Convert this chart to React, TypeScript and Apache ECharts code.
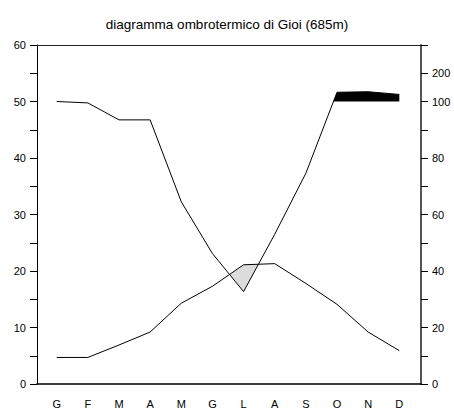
import React, { useEffect, useRef } from 'react';
import * as echarts from 'echarts';

const months = ['G', 'F', 'M', 'A', 'M', 'G', 'L', 'A', 'S', 'O', 'N', 'D'];
const temperature = [4.7, 4.7, 6.9, 9.2, 14.3, 17.3, 21.1, 21.3, 17.8, 14.1, 9.2, 5.9];
const precipitation = [100, 99.5, 93.5, 93.5, 64.5, 46.2, 32.7, 53, 74.6, 132.6, 134.6, 125];
const leftTickLabels = [0, 10, 20, 30, 40, 50, 60];
const rightTickLabels = [0, 20, 40, 60, 80, 100, 200];
const titleText = 'diagramma ombrotermico di Gioi (685m)';

// Walter-Lieth scale: 20 mm = 10 °C up to 100 mm, above 100 mm compressed 1:10
const precipToT = (p: number) => (p <= 100 ? p / 2 : 50 + (p - 100) / 20);

const xs = months.map((_, i) => i + 1);
const precipT = precipitation.map(precipToT);
const hundred = months.map(() => precipToT(100));

function regions(upper: number[], lower: number[]) {
  const polys: number[][][] = [];
  let cur: { top: number[][]; bottom: number[][] } | null = null;
  for (let i = 0; i < xs.length; i++) {
    const d = upper[i] - lower[i];
    if (i > 0) {
      const dPrev = upper[i - 1] - lower[i - 1];
      if (dPrev > 0 !== d > 0) {
        const f = dPrev / (dPrev - d);
        const x = xs[i - 1] + f * (xs[i] - xs[i - 1]);
        const y = lower[i - 1] + f * (lower[i] - lower[i - 1]);
        if (d > 0) {
          cur = { top: [[x, y]], bottom: [] };
        } else if (cur) {
          cur.top.push([x, y]);
          polys.push(cur.top.concat(cur.bottom.slice().reverse()));
          cur = null;
        }
      }
    }
    if (d > 0) {
      if (!cur) cur = { top: [], bottom: [] };
      cur.top.push([xs[i], upper[i]]);
      cur.bottom.push([xs[i], lower[i]]);
    }
  }
  if (cur) polys.push(cur.top.concat(cur.bottom.slice().reverse()));
  return polys;
}

const dryPolys = regions(temperature, precipT);
const wetPolys = regions(precipT, hundred);

const FONT = 'Liberation Sans';

export default function App() {
  const ref = useRef<HTMLDivElement>(null);
  useEffect(() => {
    if (!ref.current) return;
    const chart = echarts.init(ref.current, undefined, { renderer: 'svg' });
    const polySeries = (polys: number[][][], fill: string) => ({
      type: 'custom',
      xAxisIndex: 2,
      yAxisIndex: 2,
      data: [[1, 0]],
      encode: { x: 0, y: 1 },
      silent: true,
      renderItem: (_params: any, api: any) => ({
        type: 'group',
        children: polys.map((poly) => ({
          type: 'polygon',
          shape: { points: poly.map((p) => api.coord(p)) },
          style: { fill, stroke: null },
        })),
      }),
    });
    chart.setOption({
      animation: false,
      backgroundColor: '#fff',
      title: {
        text: titleText,
        left: 'center',
        top: 12,
        textStyle: { fontFamily: FONT, fontSize: 13.5, fontWeight: 'normal', color: '#000' },
      },
      grid: [
        { left: 37, right: 33, top: 45, bottom: 26 },
        { left: 56.7, right: 54.7, top: 45, bottom: 26 },
      ],
      xAxis: [
        {
          gridIndex: 0, type: 'value', min: 0, max: 1, position: 'bottom',
          axisLine: { show: true, onZero: false, lineStyle: { color: '#000', width: 1.5 } },
          axisTick: { show: false }, axisLabel: { show: false }, splitLine: { show: false },
        },
        {
          gridIndex: 0, type: 'value', min: 0, max: 1, position: 'top',
          axisLine: { show: true, onZero: false, lineStyle: { color: '#222', width: 1 } },
          axisTick: { show: false }, axisLabel: { show: false }, splitLine: { show: false },
        },
        {
          gridIndex: 1, type: 'value', min: 1, max: 12, interval: 1, position: 'bottom',
          axisLine: { show: false }, axisTick: { show: false }, splitLine: { show: false },
          axisLabel: {
            margin: 14, fontFamily: FONT, fontSize: 11, color: '#000',
            formatter: (v: number) => months[Math.round(v) - 1] ?? '',
          },
        },
      ],
      yAxis: [
        {
          gridIndex: 0, type: 'value', min: 0, max: 60, interval: 5, position: 'left',
          axisLine: { show: true, onZero: false, lineStyle: { color: '#000', width: 1 } },
          axisTick: { show: true, inside: false, length: 7, lineStyle: { color: '#000' } },
          splitLine: { show: false },
          axisLabel: {
            margin: 11, fontFamily: FONT, fontSize: 11, color: '#000',
            formatter: (v: number) => (leftTickLabels.includes(v) ? String(v) : ''),
          },
        },
        {
          gridIndex: 0, type: 'value', min: 0, max: 60, interval: 5, position: 'right',
          axisLine: { show: true, onZero: false, lineStyle: { color: '#555', width: 2 } },
          axisTick: { show: true, inside: false, length: 7, lineStyle: { color: '#000' } },
          splitLine: { show: false },
          axisLabel: {
            margin: 11, fontFamily: FONT, fontSize: 11, color: '#000',
            formatter: (v: number) => {
              const m = rightTickLabels.find((p) => Math.abs(precipToT(p) - v) < 1e-6);
              return m === undefined ? '' : String(m);
            },
          },
        },
        { gridIndex: 1, type: 'value', min: 0, max: 60, show: false },
      ],
      series: [
        polySeries(dryPolys, '#dcdcdc'),
        polySeries(wetPolys, '#000'),
        {
          type: 'line', xAxisIndex: 2, yAxisIndex: 2, symbol: 'none', silent: true,
          data: xs.map((x, i) => [x, temperature[i]]),
          lineStyle: { color: '#000', width: 1 },
        },
        {
          type: 'line', xAxisIndex: 2, yAxisIndex: 2, symbol: 'none', silent: true,
          data: xs.map((x, i) => [x, precipT[i]]),
          lineStyle: { color: '#000', width: 1 },
        },
      ],
    });
    return () => chart.dispose();
  }, []);
  return (
    <div
      ref={ref}
      style={{ position: 'fixed', left: 0, top: 0, width: 454, height: 410, background: '#fff' }}
    />
  );
}
